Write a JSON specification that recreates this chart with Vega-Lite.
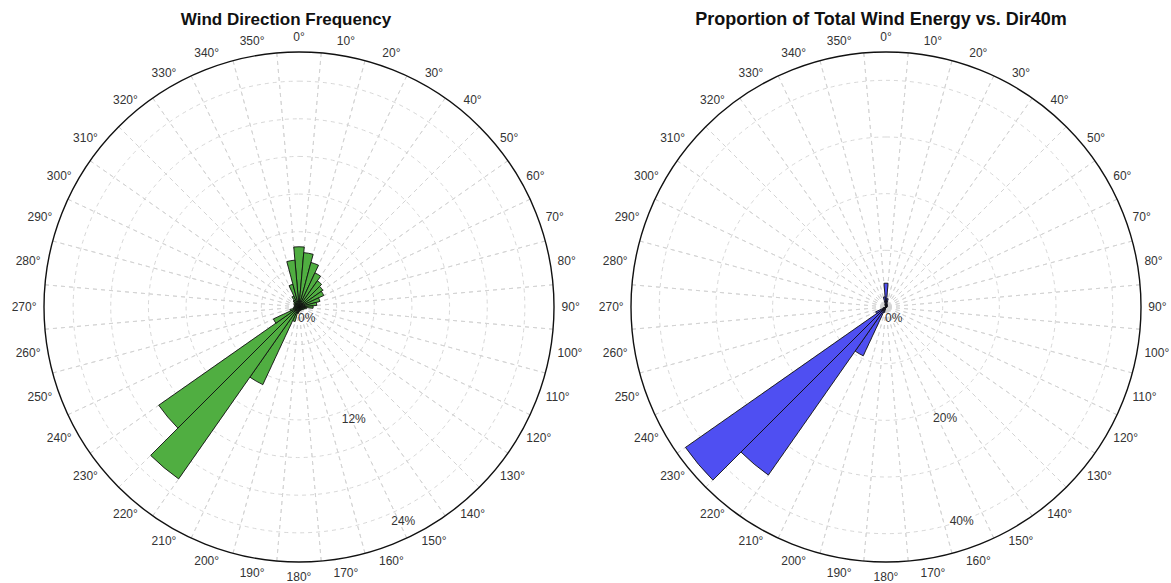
{
  "$schema": "https://vega.github.io/schema/vega-lite/v6.json",
  "padding": {"top": 10, "left": 0, "right": 0, "bottom": 0},
  "spacing": 0,
  "background": "white",
  "config": {"view": {"stroke": null}, "font": "Liberation Sans"},
  "datasets": {
    "spokes": [{"a":5},{"a":15},{"a":25},{"a":35},{"a":45},{"a":55},{"a":65},{"a":75},{"a":85},{"a":95},{"a":105},{"a":115},{"a":125},{"a":135},{"a":145},{"a":155},{"a":165},{"a":175},{"a":185},{"a":195},{"a":205},{"a":215},{"a":225},{"a":235},{"a":245},{"a":255},{"a":265},{"a":275},{"a":285},{"a":295},{"a":305},{"a":315},{"a":325},{"a":335},{"a":345},{"a":355}],
    "ticksC": [{"deg":320,"lab":"320°"},{"deg":330,"lab":"330°"},{"deg":340,"lab":"340°"},{"deg":350,"lab":"350°"},{"deg":0,"lab":"0°"},{"deg":10,"lab":"10°"},{"deg":20,"lab":"20°"},{"deg":30,"lab":"30°"},{"deg":40,"lab":"40°"},{"deg":140,"lab":"140°"},{"deg":150,"lab":"150°"},{"deg":160,"lab":"160°"},{"deg":170,"lab":"170°"},{"deg":180,"lab":"180°"},{"deg":190,"lab":"190°"},{"deg":200,"lab":"200°"},{"deg":210,"lab":"210°"},{"deg":220,"lab":"220°"}],
    "ticksR": [{"deg":50,"lab":"50°"},{"deg":60,"lab":"60°"},{"deg":70,"lab":"70°"},{"deg":80,"lab":"80°"},{"deg":90,"lab":"90°"},{"deg":100,"lab":"100°"},{"deg":110,"lab":"110°"},{"deg":120,"lab":"120°"},{"deg":130,"lab":"130°"}],
    "ticksL": [{"deg":230,"lab":"230°"},{"deg":240,"lab":"240°"},{"deg":250,"lab":"250°"},{"deg":260,"lab":"260°"},{"deg":270,"lab":"270°"},{"deg":280,"lab":"280°"},{"deg":290,"lab":"290°"},{"deg":300,"lab":"300°"},{"deg":310,"lab":"310°"}],
    "freq": [
      {"dir":0,"lo":-5,"hi":5,"pct":6.4},{"dir":10,"lo":5,"hi":15,"pct":5.8},{"dir":20,"lo":15,"hi":25,"pct":4.9},{"dir":30,"lo":25,"hi":35,"pct":4.0},{"dir":40,"lo":35,"hi":45,"pct":3.4},{"dir":50,"lo":45,"hi":55,"pct":3.1},{"dir":60,"lo":55,"hi":65,"pct":2.9},{"dir":70,"lo":65,"hi":75,"pct":2.3},{"dir":80,"lo":75,"hi":85,"pct":1.9},{"dir":90,"lo":85,"hi":95,"pct":1.5},
      {"dir":100,"lo":95,"hi":105,"pct":0.8},{"dir":110,"lo":105,"hi":115,"pct":0.6},{"dir":120,"lo":115,"hi":125,"pct":0.5},{"dir":130,"lo":125,"hi":135,"pct":0.4},{"dir":140,"lo":135,"hi":145,"pct":0.4},{"dir":150,"lo":145,"hi":155,"pct":0.4},{"dir":160,"lo":155,"hi":165,"pct":0.4},{"dir":170,"lo":165,"hi":175,"pct":0.4},{"dir":180,"lo":175,"hi":185,"pct":0.5},{"dir":190,"lo":185,"hi":195,"pct":0.7},
      {"dir":200,"lo":195,"hi":205,"pct":1.6},{"dir":210,"lo":205,"hi":215,"pct":9.1},{"dir":220,"lo":215,"hi":225,"pct":22.3},{"dir":230,"lo":225,"hi":235,"pct":18.2},{"dir":240,"lo":235,"hi":245,"pct":3.0},{"dir":250,"lo":245,"hi":255,"pct":1.0},{"dir":260,"lo":255,"hi":265,"pct":0.6},{"dir":270,"lo":265,"hi":275,"pct":0.5},{"dir":280,"lo":275,"hi":285,"pct":0.5},{"dir":290,"lo":285,"hi":295,"pct":0.5},
      {"dir":300,"lo":295,"hi":305,"pct":0.6},{"dir":310,"lo":305,"hi":315,"pct":0.7},{"dir":320,"lo":315,"hi":325,"pct":0.9},{"dir":330,"lo":325,"hi":335,"pct":1.3},{"dir":340,"lo":335,"hi":345,"pct":2.5},{"dir":350,"lo":345,"hi":355,"pct":5.0}
    ],
    "energy": [
      {"dir":0,"lo":-5,"hi":5,"pct":4.2},{"dir":10,"lo":5,"hi":15,"pct":1.5},{"dir":20,"lo":15,"hi":25,"pct":0.6},{"dir":30,"lo":25,"hi":35,"pct":0.4},{"dir":40,"lo":35,"hi":45,"pct":0.3},{"dir":50,"lo":45,"hi":55,"pct":0.3},{"dir":60,"lo":55,"hi":65,"pct":0.3},{"dir":70,"lo":65,"hi":75,"pct":0.2},{"dir":80,"lo":75,"hi":85,"pct":0.2},{"dir":90,"lo":85,"hi":95,"pct":0.2},
      {"dir":100,"lo":95,"hi":105,"pct":0.1},{"dir":110,"lo":105,"hi":115,"pct":0.1},{"dir":120,"lo":115,"hi":125,"pct":0.1},{"dir":130,"lo":125,"hi":135,"pct":0.1},{"dir":140,"lo":135,"hi":145,"pct":0.1},{"dir":150,"lo":145,"hi":155,"pct":0.1},{"dir":160,"lo":155,"hi":165,"pct":0.1},{"dir":170,"lo":165,"hi":175,"pct":0.1},{"dir":180,"lo":175,"hi":185,"pct":0.1},{"dir":190,"lo":185,"hi":195,"pct":0.2},
      {"dir":200,"lo":195,"hi":205,"pct":1.0},{"dir":210,"lo":205,"hi":215,"pct":9.5},{"dir":220,"lo":215,"hi":225,"pct":36.2},{"dir":230,"lo":225,"hi":235,"pct":43.2},{"dir":240,"lo":235,"hi":245,"pct":2.0},{"dir":250,"lo":245,"hi":255,"pct":0.5},{"dir":260,"lo":255,"hi":265,"pct":0.2},{"dir":270,"lo":265,"hi":275,"pct":0.1},{"dir":280,"lo":275,"hi":285,"pct":0.1},{"dir":290,"lo":285,"hi":295,"pct":0.1},
      {"dir":300,"lo":295,"hi":305,"pct":0.1},{"dir":310,"lo":305,"hi":315,"pct":0.2},{"dir":320,"lo":315,"hi":325,"pct":0.2},{"dir":330,"lo":325,"hi":335,"pct":0.3},{"dir":340,"lo":335,"hi":345,"pct":0.5},{"dir":350,"lo":345,"hi":355,"pct":1.8}
    ]
  },
  "hconcat": [
    {
      "width": 598,
      "height": 550,
      "title": {"text": "Wind Direction Frequency", "fontSize": 17, "fontWeight": "bold", "color": "#111111", "offset": 2, "dx": -13},
      "layer": [
        {
          "data": {"values": [{"r":4},{"r":8},{"r":12},{"r":16},{"r":20},{"r":24}]},
          "mark": {"type": "arc", "filled": false, "stroke": "#d2d2d2", "strokeWidth": 0.9, "strokeDash": [4, 4]},
          "encoding": {
            "theta": {"datum": 0, "type": "quantitative", "stack": null, "scale": {"domain": [0, 360]}},
            "theta2": {"datum": 360},
            "radius": {"field": "r", "type": "quantitative", "stack": null, "scale": {"type": "linear", "domain": [0, 27.1], "range": [0, 255], "zero": true, "nice": false}}
          }
        },
        {
          "data": {"name": "spokes"},
          "mark": {"type": "arc", "filled": false, "stroke": "#d2d2d2", "strokeWidth": 0.9, "strokeDash": [4.015748, 4.015748]},
          "encoding": {
            "theta": {"field": "a", "type": "quantitative", "stack": null, "scale": {"domain": [0, 360]}},
            "theta2": {"field": "a"},
            "radius": {"datum": 27.1, "type": "quantitative", "stack": null, "scale": {"type": "linear", "domain": [0, 27.1], "range": [0, 255], "zero": true, "nice": false}}
          }
        },
        {
          "data": {"name": "freq"},
          "mark": {"type": "arc", "fill": "#50ae41", "stroke": "#111111", "strokeWidth": 0.9},
          "encoding": {
            "theta": {"field": "lo", "type": "quantitative", "stack": null, "scale": {"domain": [0, 360]}},
            "theta2": {"field": "hi"},
            "radius": {"field": "pct", "type": "quantitative", "stack": null, "scale": {"type": "linear", "domain": [0, 27.1], "range": [0, 255], "zero": true, "nice": false}},
            "tooltip": [{"field": "dir", "type": "quantitative"}, {"field": "pct", "type": "quantitative"}]
          }
        },
        {
          "data": {"values": [{"r": 27.1}]},
          "mark": {"type": "arc", "filled": false, "stroke": "#111111", "strokeWidth": 1.4},
          "encoding": {
            "theta": {"datum": 0, "type": "quantitative", "stack": null, "scale": {"domain": [0, 360]}},
            "theta2": {"datum": 360},
            "radius": {"field": "r", "type": "quantitative", "stack": null, "scale": {"type": "linear", "domain": [0, 27.1], "range": [0, 255], "zero": true, "nice": false}}
          }
        },
        {
          "data": {"name": "ticksC"},
          "mark": {"type": "text", "fontSize": 12, "fill": "#333333", "align": "center", "baseline": "middle"},
          "encoding": {
            "theta": {"field": "deg", "type": "quantitative", "stack": null, "scale": {"domain": [0, 360]}},
            "radius": {"datum": 28.7, "type": "quantitative", "stack": null, "scale": {"type": "linear", "domain": [0, 27.1], "range": [0, 255], "zero": true, "nice": false}},
            "text": {"field": "lab"}
          }
        },
        {
          "data": {"name": "ticksR"},
          "mark": {"type": "text", "fontSize": 12, "fill": "#333333", "align": "left", "baseline": "middle"},
          "encoding": {
            "theta": {"field": "deg", "type": "quantitative", "stack": null, "scale": {"domain": [0, 360]}},
            "radius": {"datum": 27.9, "type": "quantitative", "stack": null, "scale": {"type": "linear", "domain": [0, 27.1], "range": [0, 255], "zero": true, "nice": false}},
            "text": {"field": "lab"}
          }
        },
        {
          "data": {"name": "ticksL"},
          "mark": {"type": "text", "fontSize": 12, "fill": "#333333", "align": "right", "baseline": "middle"},
          "encoding": {
            "theta": {"field": "deg", "type": "quantitative", "stack": null, "scale": {"domain": [0, 360]}},
            "radius": {"datum": 27.9, "type": "quantitative", "stack": null, "scale": {"type": "linear", "domain": [0, 27.1], "range": [0, 255], "zero": true, "nice": false}},
            "text": {"field": "lab"}
          }
        },
        {
          "data": {"values": [{"t": 154, "r": 12, "lab": "12%"}, {"t": 154, "r": 24, "lab": "24%"}]},
          "mark": {"type": "text", "fontSize": 12, "fill": "#333333", "align": "center", "baseline": "middle", "radiusOffset": 12},
          "encoding": {
            "theta": {"field": "t", "type": "quantitative", "stack": null, "scale": {"domain": [0, 360]}},
            "radius": {"field": "r", "type": "quantitative", "stack": null, "scale": {"type": "linear", "domain": [0, 27.1], "range": [0, 255], "zero": true, "nice": false}},
            "text": {"field": "lab"}
          }
        },
        {
          "data": {"values": [{"t": 0, "r": 0, "lab": "0%"}]},
          "mark": {"type": "text", "fontSize": 12, "fill": "#333333", "align": "left", "baseline": "middle", "dy": 11, "dx": -1},
          "encoding": {
            "theta": {"field": "t", "type": "quantitative", "stack": null, "scale": {"domain": [0, 360]}},
            "radius": {"field": "r", "type": "quantitative", "stack": null, "scale": {"type": "linear", "domain": [0, 27.1], "range": [0, 255], "zero": true, "nice": false}},
            "text": {"field": "lab"}
          }
        }
      ]
    },
    {
      "width": 572,
      "height": 550,
      "title": {"text": "Proportion of Total Wind Energy vs. Dir40m", "fontSize": 18, "fontWeight": "bold", "color": "#111111", "offset": 2, "dx": -5},
      "layer": [
        {
          "data": {"values": [{"r":10},{"r":20},{"r":30},{"r":40}]},
          "mark": {"type": "arc", "filled": false, "stroke": "#d2d2d2", "strokeWidth": 0.9, "strokeDash": [4, 4]},
          "encoding": {
            "theta": {"datum": 0, "type": "quantitative", "stack": null, "scale": {"domain": [0, 360]}},
            "theta2": {"datum": 360},
            "radius": {"field": "r", "type": "quantitative", "stack": null, "scale": {"type": "linear", "domain": [0, 45], "range": [0, 255], "zero": true, "nice": false}}
          }
        },
        {
          "data": {"name": "spokes"},
          "mark": {"type": "arc", "filled": false, "stroke": "#d2d2d2", "strokeWidth": 0.9, "strokeDash": [4.015748, 4.015748]},
          "encoding": {
            "theta": {"field": "a", "type": "quantitative", "stack": null, "scale": {"domain": [0, 360]}},
            "theta2": {"field": "a"},
            "radius": {"datum": 45, "type": "quantitative", "stack": null, "scale": {"type": "linear", "domain": [0, 45], "range": [0, 255], "zero": true, "nice": false}}
          }
        },
        {
          "data": {"name": "energy"},
          "mark": {"type": "arc", "fill": "#4f4ff2", "stroke": "#111111", "strokeWidth": 0.9},
          "encoding": {
            "theta": {"field": "lo", "type": "quantitative", "stack": null, "scale": {"domain": [0, 360]}},
            "theta2": {"field": "hi"},
            "radius": {"field": "pct", "type": "quantitative", "stack": null, "scale": {"type": "linear", "domain": [0, 45], "range": [0, 255], "zero": true, "nice": false}},
            "tooltip": [{"field": "dir", "type": "quantitative"}, {"field": "pct", "type": "quantitative"}]
          }
        },
        {
          "data": {"values": [{"r": 45}]},
          "mark": {"type": "arc", "filled": false, "stroke": "#111111", "strokeWidth": 1.4},
          "encoding": {
            "theta": {"datum": 0, "type": "quantitative", "stack": null, "scale": {"domain": [0, 360]}},
            "theta2": {"datum": 360},
            "radius": {"field": "r", "type": "quantitative", "stack": null, "scale": {"type": "linear", "domain": [0, 45], "range": [0, 255], "zero": true, "nice": false}}
          }
        },
        {
          "data": {"name": "ticksC"},
          "mark": {"type": "text", "fontSize": 12, "fill": "#333333", "align": "center", "baseline": "middle"},
          "encoding": {
            "theta": {"field": "deg", "type": "quantitative", "stack": null, "scale": {"domain": [0, 360]}},
            "radius": {"datum": 47.65, "type": "quantitative", "stack": null, "scale": {"type": "linear", "domain": [0, 45], "range": [0, 255], "zero": true, "nice": false}},
            "text": {"field": "lab"}
          }
        },
        {
          "data": {"name": "ticksR"},
          "mark": {"type": "text", "fontSize": 12, "fill": "#333333", "align": "left", "baseline": "middle"},
          "encoding": {
            "theta": {"field": "deg", "type": "quantitative", "stack": null, "scale": {"domain": [0, 360]}},
            "radius": {"datum": 46.3, "type": "quantitative", "stack": null, "scale": {"type": "linear", "domain": [0, 45], "range": [0, 255], "zero": true, "nice": false}},
            "text": {"field": "lab"}
          }
        },
        {
          "data": {"name": "ticksL"},
          "mark": {"type": "text", "fontSize": 12, "fill": "#333333", "align": "right", "baseline": "middle"},
          "encoding": {
            "theta": {"field": "deg", "type": "quantitative", "stack": null, "scale": {"domain": [0, 360]}},
            "radius": {"datum": 46.3, "type": "quantitative", "stack": null, "scale": {"type": "linear", "domain": [0, 45], "range": [0, 255], "zero": true, "nice": false}},
            "text": {"field": "lab"}
          }
        },
        {
          "data": {"values": [{"t": 152, "r": 22.2, "lab": "20%"}, {"t": 160.5, "r": 40, "lab": "40%"}]},
          "mark": {"type": "text", "fontSize": 12, "fill": "#333333", "align": "center", "baseline": "middle"},
          "encoding": {
            "theta": {"field": "t", "type": "quantitative", "stack": null, "scale": {"domain": [0, 360]}},
            "radius": {"field": "r", "type": "quantitative", "stack": null, "scale": {"type": "linear", "domain": [0, 45], "range": [0, 255], "zero": true, "nice": false}},
            "text": {"field": "lab"}
          }
        },
        {
          "data": {"values": [{"t": 0, "r": 0, "lab": "0%"}]},
          "mark": {"type": "text", "fontSize": 12, "fill": "#333333", "align": "left", "baseline": "middle", "dy": 11, "dx": -1},
          "encoding": {
            "theta": {"field": "t", "type": "quantitative", "stack": null, "scale": {"domain": [0, 360]}},
            "radius": {"field": "r", "type": "quantitative", "stack": null, "scale": {"type": "linear", "domain": [0, 45], "range": [0, 255], "zero": true, "nice": false}},
            "text": {"field": "lab"}
          }
        }
      ]
    }
  ]
}
